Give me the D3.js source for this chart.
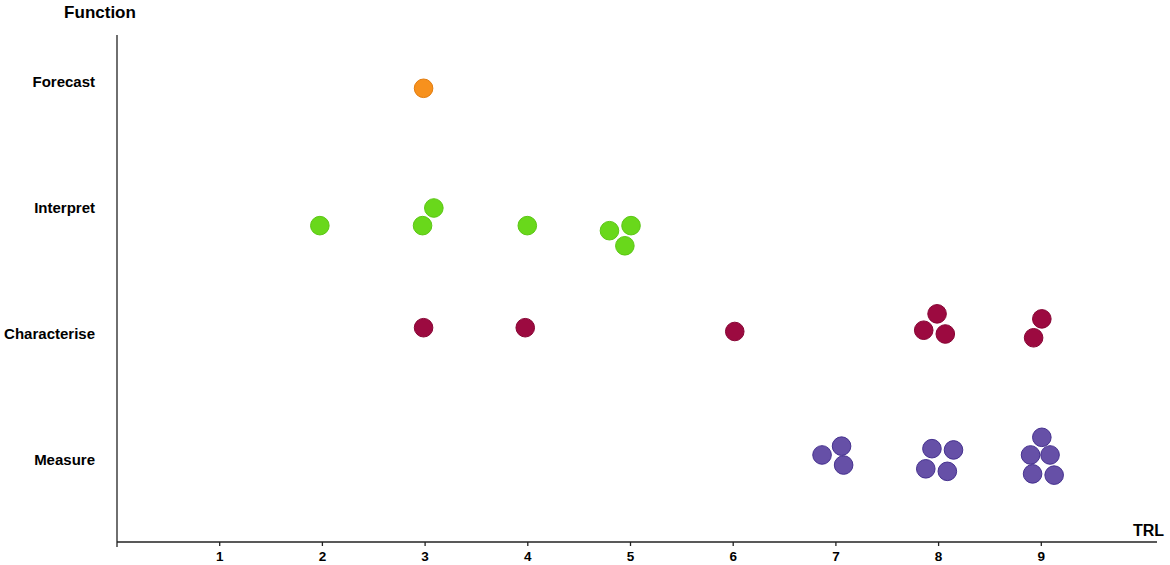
<!DOCTYPE html>
<html>
<head>
  <title>TRL by function</title>
  <script src="https://d3js.org/d3.v7.min.js"></script>
  <style>
    body { margin: 0; background: #fff; }
    text { font-family: "Liberation Sans", Arial, sans-serif; font-weight: bold; fill: #000; }
  </style>
</head>
<body>
  <div id="chart"></div>

  <script>
    // functions, bottom to top (level 1..4)
    var functions = ["Measure", "Characterise", "Interpret", "Forecast"];
    var trlTicks = [1, 2, 3, 4, 5, 6, 7, 8, 9];

    // each point: TRL (jittered) and function level (jittered)
    var forecastTrl = [2.99];
    var forecastLvl = [3.95];

    var interpretTrl = [1.98, 2.98, 3.09, 4.00, 4.80, 5.01, 4.95];
    var interpretLvl = [2.86, 2.86, 3.00, 2.86, 2.82, 2.86, 2.70];

    var characteriseTrl = [2.99, 3.98, 6.02, 7.99, 7.86, 8.07, 9.01, 8.93];
    var characteriseLvl = [2.05, 2.05, 2.02, 2.16, 2.03, 2.00, 2.12, 1.97];

    var measureTrl = [6.87, 7.06, 7.08, 7.94, 8.15, 7.88, 8.09, 9.01, 8.90, 9.09, 8.92, 9.13];
    var measureLvl = [1.04, 1.11, 0.96, 1.09, 1.08, 0.93, 0.91, 1.18, 1.04, 1.04, 0.89, 0.88];

    var groups = [
      { name: "Forecast", trl: forecastTrl, lvl: forecastLvl, fill: "#f7911d", stroke: "#e27c0e" },
      { name: "Interpret", trl: interpretTrl, lvl: interpretLvl, fill: "#69d81b", stroke: "#5bc614" },
      { name: "Characterise", trl: characteriseTrl, lvl: characteriseLvl, fill: "#9c0a40", stroke: "#870534" },
      { name: "Measure", trl: measureTrl, lvl: measureLvl, fill: "#6650a7", stroke: "#45318f" }
    ];

    var width = 1170;
    var height = 565;
    var x0 = 117, axisY = 542;

    var x = d3.scaleLinear()
      .domain([0, 10])
      .range([116.5, 1143.5]);

    var y = d3.scaleLinear()
      .domain([1, 4])
      .range([460, 82]);

    var svg = d3.select("#chart")
      .append("svg")
      .attr("width", width)
      .attr("height", height);

    // vertical axis line
    svg.append("line")
      .attr("x1", x0).attr("x2", x0)
      .attr("y1", 35).attr("y2", axisY)
      .attr("stroke", "#222").attr("stroke-width", 1.3);

    // horizontal axis
    var xAxis = d3.axisBottom(x)
      .tickValues(trlTicks)
      .tickSize(4)
      .tickSizeOuter(0)
      .tickPadding(5);

    var gx = svg.append("g")
      .attr("transform", "translate(0," + axisY + ")")
      .call(xAxis);
    gx.select(".domain").remove();
    gx.append("line")
      .attr("x1", x0).attr("x2", 1157)
      .attr("y1", 0).attr("y2", 0)
      .attr("stroke", "#222").attr("stroke-width", 1.3);
    gx.append("line")
      .attr("x1", x0).attr("x2", x0)
      .attr("y1", 0).attr("y2", 5)
      .attr("stroke", "#222").attr("stroke-width", 1.3);
    gx.selectAll(".tick line").attr("stroke", "#222").attr("stroke-width", 1.3);
    gx.selectAll(".tick text")
      .style("font-family", "'Liberation Sans', Arial, sans-serif")
      .style("font-weight", "bold")
      .style("font-size", "13.5px")
      .attr("fill", "#000");

    // category labels
    svg.selectAll(".fn-label")
      .data(functions)
      .enter()
      .append("text")
      .attr("class", "fn-label")
      .attr("x", 95)
      .attr("y", function(d, i) { return y(i + 1); })
      .attr("dy", "0.35em")
      .attr("text-anchor", "end")
      .style("font-size", "15px")
      .text(function(d) { return d; });

    // axis titles
    svg.append("text")
      .attr("x", 100).attr("y", 18)
      .attr("text-anchor", "middle")
      .style("font-size", "17px")
      .text("Function");

    svg.append("text")
      .attr("x", 1164).attr("y", 536)
      .attr("text-anchor", "end")
      .style("font-size", "16px")
      .text("TRL");

    // points
    groups.forEach(function(g) {
      var pts = g.trl.map(function(t, i) { return { trl: t, lvl: g.lvl[i] }; });
      svg.append("g")
        .selectAll("circle")
        .data(pts)
        .enter()
        .append("circle")
        .attr("cx", function(d) { return x(d.trl); })
        .attr("cy", function(d) { return y(d.lvl); })
        .attr("r", 9.3)
        .attr("fill", g.fill)
        .attr("stroke", g.stroke)
        .attr("stroke-width", 1);
    });
  </script>
</body>
</html>
